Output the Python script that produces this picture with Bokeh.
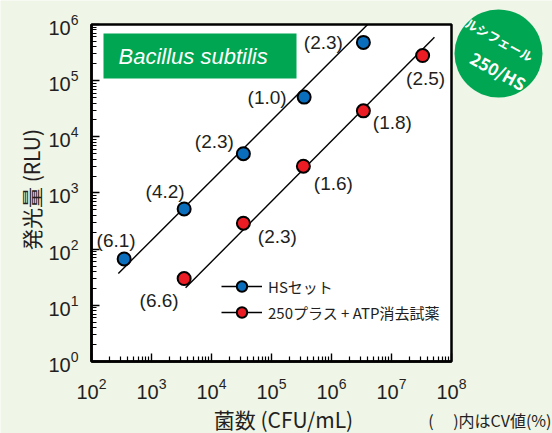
import math
from bokeh.plotting import figure
from bokeh.models import (ColumnDataSource, Range1d, FixedTicker, Label,
                          Legend, LegendItem)
from bokeh.core.properties import value
from bokeh.embed import file_html
from bokeh.resources import INLINE

# ---------------- data ----------------
x_hs = [3.5e2, 3.5e3, 3.4e4, 3.5e5, 3.4e6]
y_hs = [67, 5.2e2, 5.0e3, 5.1e4, 4.8e5]
cv_hs = ["(6.1)", "(4.2)", "(2.3)", "(1.0)", "(2.3)"]

x_plus = [3.5e3, 3.4e4, 3.4e5, 3.4e6, 3.3e7]
y_plus = [30, 2.9e2, 3.0e3, 2.9e4, 2.8e5]
cv_plus = ["(6.6)", "(2.3)", "(1.6)", "(1.8)", "(2.5)"]

fit_hs_x = [2.8e2, 4.0e6]
fit_hs_y = [37, 1.0e6]
fit_plus_x = [3.7e3, 5.2e7]
fit_plus_y = [20.5, 5.9e5]

x_exponents = [2, 3, 4, 5, 6, 7, 8]
y_exponents = [0, 1, 2, 3, 4, 5, 6]

series_names = ["HSセット", "250プラス + ATP消去試薬"]
x_title = "菌数 (CFU/mL)"
y_title = "発光量 (RLU)"
note_text = "(　 )内はCV値(%)"
organism = "Bacillus subtilis"
logo_lines = ["ルシフェール", "250/HS"]

# ---------------- layout / style ----------------
W, H = 552, 433
BOX_L, BOX_B = 91, 361     # plot box left / bottom (px)
PXX, PXY = 60.0, 56.17     # px per decade
BG = "#eff5e7"
GREEN = "#00a651"
BLUE = "#0a6ebd"
RED = "#ec1c24"
INK = "#231f20"

def dx(px):
    return 10 ** (x_exponents[0] + (px - BOX_L) / PXX)

def dy(py):
    return 10 ** (y_exponents[0] + (BOX_B - py) / PXY)

x_major = [10.0 ** e for e in x_exponents]
y_major = [10.0 ** e for e in y_exponents]
x_minor = [k * 10.0 ** e for e in x_exponents[:-1] for k in range(2, 10)]
y_minor = [k * 10.0 ** e for e in y_exponents[:-1] for k in range(2, 10)]

p = figure(width=W, height=H, x_axis_type="log", y_axis_type="log",
           x_range=Range1d(dx(0), dx(W)), y_range=Range1d(dy(H), dy(0)),
           output_backend="svg", toolbar_location=None,
           min_border_left=0, min_border_right=0, min_border_top=0, min_border_bottom=0,
           background_fill_color=BG, border_fill_color=BG, outline_line_color=None)
p.xgrid.visible = False
p.ygrid.visible = False

p.xaxis.fixed_location = y_major[0]
p.yaxis.fixed_location = x_major[0]
for ax, maj, mnr in ((p.xaxis[0], x_major, x_minor), (p.yaxis[0], y_major, y_minor)):
    ax.ticker = FixedTicker(ticks=maj, minor_ticks=mnr)
    ax.bounds = (maj[0], maj[-1])
    ax.axis_line_width = 2.5
    ax.axis_line_color = "black"
    ax.major_tick_in = 8
    ax.major_tick_out = 0
    ax.minor_tick_in = 5
    ax.minor_tick_out = 0
    ax.major_tick_line_width = 1.4
    ax.minor_tick_line_width = 1.2
    ax.major_tick_line_color = "black"
    ax.minor_tick_line_color = "black"
    ax.major_label_text_font = "Liberation Sans"
    ax.major_label_text_font_size = "20px"
    ax.major_label_text_color = INK
p.xaxis.major_label_standoff = 16
p.yaxis.major_label_standoff = 13

# plot box (white area with black border)
p.quad(left=[x_major[0]], right=[x_major[-1]], bottom=[y_major[0]], top=[y_major[-1]],
       fill_color="white", line_color="black", line_width=2.5)

# organism box
p.quad(left=[dx(103)], right=[dx(296)], top=[dy(33)], bottom=[dy(78)],
       fill_color=GREEN, line_color=None)
p.text(x=[dx(118)], y=[dy(55.5)], text=[organism], text_align="left",
       text_baseline="middle", text_font=value("Liberation Sans"),
       text_font_style="italic", text_font_size="22px", text_color="white")

# fit lines
l_hs = p.line(fit_hs_x, fit_hs_y, line_color="black", line_width=1.4)
l_plus = p.line(fit_plus_x, fit_plus_y, line_color="black", line_width=1.4)

# points
s_hs = p.scatter(x_hs, y_hs, size=13, fill_color=BLUE, line_color="black", line_width=2)
s_plus = p.scatter(x_plus, y_plus, size=13, fill_color=RED, line_color="black", line_width=2)

# CV labels
cv_src = ColumnDataSource(dict(
    x=x_hs + x_plus, y=y_hs + y_plus, t=cv_hs + cv_plus,
    ox=[-8, -19, -29, -37, -40, -25, 34, 30, 29, 3],
    oy=[-18, -17, -12, 0, 0, 22, 13, 17, 12, 23]))
p.text(x="x", y="y", text="t", x_offset="ox", y_offset="oy", source=cv_src,
       text_align="center", text_baseline="middle", text_font=value("Liberation Sans"),
       text_font_size="19px", text_color=INK)

# logo
p.scatter([dx(498)], [dy(53)], size=88, fill_color=GREEN, line_color=None)
p.add_layout(Label(x=dx(499), y=dy(39), text=logo_lines[0], angle=-0.5,
                   text_align="center", text_baseline="middle", text_font="Noto Sans CJK JP",
                   text_font_style="bold", text_font_size="12.5px", text_color="white"))
p.add_layout(Label(x=dx(498), y=dy(70), text=logo_lines[1], angle=-0.5,
                   text_align="center", text_baseline="middle", text_font="Noto Sans CJK JP",
                   text_font_style="bold", text_font_size="17px", text_color="white"))

# axis titles and note
p.add_layout(Label(x=dx(30), y=dy(189), text=y_title, angle=math.pi / 2,
                   text_align="center", text_baseline="middle", text_font="Noto Sans CJK JP",
                   text_font_size="21px", text_color=INK))
p.add_layout(Label(x=dx(283), y=dy(418), text=x_title,
                   text_align="center", text_baseline="middle", text_font="Noto Sans CJK JP",
                   text_font_size="21px", text_color=INK))
p.add_layout(Label(x=dx(551), y=dy(419), text=note_text,
                   text_align="right", text_baseline="middle", text_font="Noto Sans CJK JP",
                   text_font_size="16px", text_color=INK))

legend = Legend(items=[LegendItem(label=series_names[0], renderers=[l_hs, s_hs]),
                       LegendItem(label=series_names[1], renderers=[l_plus, s_plus])],
                location=(221, 108), glyph_width=41, glyph_height=26, label_height=26,
                spacing=0, padding=0, margin=0, label_standoff=6,
                border_line_color=None, background_fill_alpha=0,
                label_text_font="Noto Sans CJK JP", label_text_font_size="15px",
                label_text_color=INK)
p.add_layout(legend)

open("out.html", "w").write(file_html(p, INLINE))
